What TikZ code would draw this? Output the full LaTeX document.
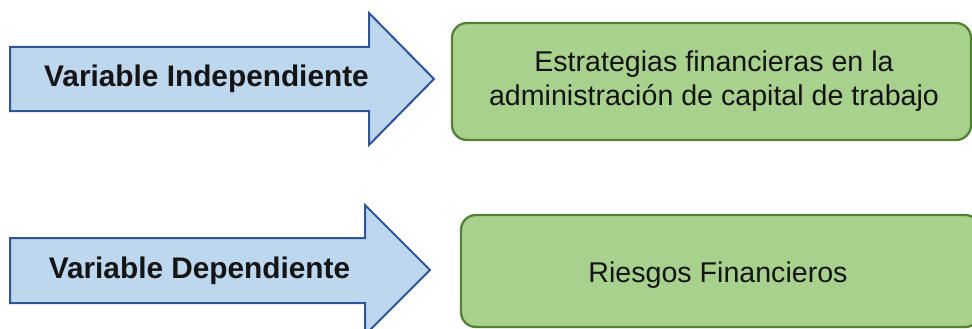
\documentclass[tikz,border=0pt]{standalone}
\usepackage{fontspec}
\setmainfont{Liberation Sans}
\definecolor{arrowfill}{HTML}{BDD7EE}
\definecolor{arrowline}{HTML}{2F5597}
\definecolor{boxfill}{HTML}{A9D18E}
\definecolor{boxline}{HTML}{548235}
\begin{document}
\begin{tikzpicture}[x=1pt,y=-1pt,
  arrowshape/.style={fill=arrowfill,draw=arrowline,line width=2pt,line join=miter},
  greenbox/.style={fill=boxfill,draw=boxline,line width=2.3pt,rounded corners=15pt},
  vartext/.style={font=\fontsize{29.8}{34}\selectfont\bfseries,anchor=base,inner sep=0pt,text=black!92},
  boxtext/.style={font=\fontsize{28.6}{34}\selectfont,anchor=base,inner sep=0pt,text=black!92}]
\useasboundingbox (0,0) rectangle (972,329);
\clip (0,0) rectangle (972,329);
% arrows
\draw[arrowshape] (10,47) -- (369,47) -- (369,13) -- (434,79) -- (369,145) -- (369,111) -- (10,111) -- cycle;
\draw[arrowshape] (10,238) -- (365,238) -- (365,205) -- (430,270) -- (365,335) -- (365,303) -- (10,303) -- cycle;
% boxes
\draw[greenbox] (452,23) rectangle (971,140);
\draw[greenbox] (461,215) rectangle (980,327);
% texts
\node[vartext] (vi) at (206.5,86) {Variable Independiente};
\node[vartext] (vd) at (199.5,278) {Variable Dependiente};
\node[boxtext] (e1) at (714,72) {Estrategias financieras en la};
\node[boxtext] (e2) at (714,106) {administración de capital de trabajo};
\node[boxtext] (rf) at (718,282) {Riesgos Financieros};
\end{tikzpicture}
\end{document}
